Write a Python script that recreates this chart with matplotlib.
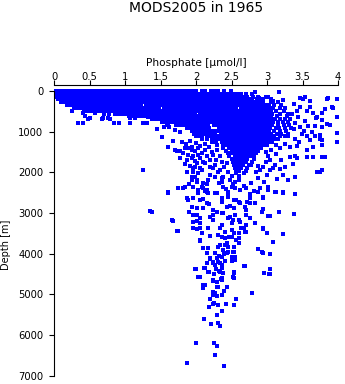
import matplotlib
matplotlib.use("Agg")
import matplotlib.pyplot as plt

plt.rcParams["font.family"] = ["DejaVu Sans"]

# Dense upper-ocean profiles: one depth per row, phosphate values (umol/l) along it
row_depth = [0, 70, 140, 210, 280, 350, 420, 490, 560, 630, 700, 770, 840, 910,
             980, 1050, 1120, 1190, 1260, 1330, 1400, 1470, 1540, 1610, 1680,
             1750, 1820, 1890, 1960, 2030, 2100]
row_phosphate = [
    "0.00 0.03 0.07 0.11 0.14 0.18 0.22 0.25 0.29 0.33 0.37 0.40 0.44 0.48 0.51 0.55 0.59 0.63 0.66 0.70 0.74 0.77 0.81 0.85 0.89 0.92 0.96 1.00 1.03 1.07 1.11 1.15 1.18 1.22 1.26 1.29 1.33 1.37 1.41 1.44 1.48 1.52 1.55 1.59 1.63 1.67 1.70 1.74 1.78 1.81 1.85 1.89 1.93 1.96 2.00 2.08 2.12 2.21 2.27 2.31 2.40 2.49",
    "0.01 0.05 0.09 0.12 0.16 0.20 0.24 0.27 0.31 0.35 0.39 0.42 0.46 0.50 0.54 0.57 0.61 0.65 0.69 0.72 0.76 0.80 0.84 0.87 0.91 0.95 0.99 1.02 1.06 1.10 1.14 1.17 1.21 1.25 1.29 1.32 1.36 1.40 1.44 1.47 1.51 1.55 1.59 1.62 1.66 1.70 1.74 1.77 1.81 1.85 1.89 1.92 1.96 2.00 2.04 2.07 2.11 2.15 2.19 2.22 2.26 2.30 2.34 2.37 2.41 2.45 2.49 2.52 2.56 2.60 2.64 2.71 2.79",
    "0.02 0.06 0.10 0.13 0.17 0.21 0.25 0.28 0.32 0.36 0.40 0.43 0.47 0.51 0.55 0.58 0.62 0.66 0.70 0.73 0.77 0.81 0.85 0.88 0.92 0.96 1.00 1.03 1.07 1.11 1.15 1.18 1.22 1.26 1.30 1.33 1.37 1.41 1.45 1.48 1.52 1.56 1.60 1.63 1.67 1.71 1.75 1.78 1.82 1.86 1.90 1.93 1.97 2.01 2.05 2.08 2.12 2.16 2.20 2.23 2.27 2.31 2.35 2.38 2.42 2.46 2.50 2.53 2.57 2.61 2.65 2.68 2.72 2.80 2.87 2.98",
    "0.05 0.09 0.12 0.16 0.20 0.24 0.27 0.31 0.35 0.39 0.42 0.46 0.50 0.54 0.57 0.61 0.65 0.69 0.72 0.76 0.80 0.84 0.87 0.91 0.95 0.99 1.02 1.06 1.10 1.14 1.17 1.21 1.25 1.29 1.32 1.36 1.40 1.44 1.47 1.51 1.55 1.59 1.62 1.66 1.70 1.74 1.77 1.81 1.85 1.89 1.92 1.96 2.00 2.04 2.07 2.11 2.15 2.19 2.22 2.26 2.30 2.34 2.37 2.41 2.45 2.49 2.52 2.56 2.60 2.64 2.67 2.71 2.75 2.79 2.86 2.94 3.06",
    "0.10 0.13 0.17 0.21 0.25 0.28 0.32 0.36 0.40 0.43 0.47 0.51 0.55 0.58 0.62 0.66 0.70 0.73 0.77 0.81 0.85 0.88 0.92 0.96 1.00 1.03 1.07 1.11 1.15 1.18 1.22 1.26 1.30 1.33 1.37 1.41 1.45 1.48 1.52 1.56 1.60 1.63 1.67 1.71 1.75 1.78 1.82 1.86 1.90 1.93 1.97 2.01 2.05 2.08 2.12 2.16 2.20 2.23 2.27 2.31 2.35 2.38 2.42 2.46 2.50 2.53 2.57 2.61 2.65 2.68 2.72 2.76 2.80 2.83 2.87 2.91 2.95 3.06 3.15",
    "0.18 0.21 0.25 0.29 0.33 0.36 0.40 0.44 0.48 0.51 0.55 0.59 0.63 0.66 0.70 0.74 0.78 0.81 0.85 0.89 0.93 0.96 1.00 1.04 1.08 1.11 1.15 1.19 1.23 1.30 1.34 1.38 1.41 1.45 1.49 1.53 1.56 1.60 1.64 1.68 1.71 1.75 1.79 1.83 1.86 1.90 1.94 1.98 2.01 2.05 2.09 2.13 2.16 2.20 2.24 2.28 2.31 2.35 2.39 2.43 2.46 2.50 2.54 2.58 2.61 2.65 2.69 2.73 2.76 2.80 2.84 2.88 2.91 2.95 2.99 3.03 3.10 3.20",
    "0.28 0.31 0.35 0.39 0.43 0.46 0.50 0.54 0.58 0.61 0.65 0.69 0.73 0.76 0.80 0.84 0.88 0.91 0.95 0.99 1.03 1.06 1.10 1.14 1.18 1.21 1.25 1.29 1.33 1.36 1.40 1.44 1.48 1.55 1.59 1.63 1.66 1.70 1.74 1.78 1.81 1.85 1.89 1.93 1.96 2.00 2.04 2.08 2.11 2.15 2.19 2.23 2.26 2.30 2.34 2.38 2.41 2.45 2.49 2.53 2.56 2.64 2.68 2.71 2.75 2.79 2.83 2.86 2.90 2.94 2.98 3.01 3.05 3.09 3.18 3.26",
    "0.42 0.46 0.50 0.53 0.57 0.61 0.65 0.68 0.72 0.76 0.80 0.83 0.87 0.91 0.95 0.98 1.02 1.06 1.10 1.13 1.17 1.21 1.25 1.28 1.32 1.36 1.40 1.43 1.47 1.51 1.55 1.58 1.62 1.66 1.70 1.73 1.77 1.81 1.85 1.88 1.92 1.96 2.00 2.03 2.07 2.11 2.15 2.18 2.22 2.26 2.30 2.33 2.37 2.41 2.45 2.48 2.52 2.56 2.60 2.63 2.67 2.71 2.75 2.78 2.82 2.86 2.90 2.93 2.97 3.01 3.05 3.12 3.24",
    "0.70 0.78 0.86 0.89 0.93 0.97 1.01 1.04 1.08 1.12 1.16 1.19 1.23 1.27 1.31 1.34 1.38 1.42 1.46 1.49 1.53 1.57 1.61 1.64 1.68 1.72 1.76 1.79 1.83 1.87 1.91 1.94 1.98 2.06 2.09 2.13 2.17 2.21 2.24 2.28 2.32 2.36 2.39 2.43 2.47 2.51 2.54 2.58 2.62 2.66 2.69 2.73 2.77 2.81 2.84 2.88 2.92 2.96 2.99 3.03 3.07 3.18 3.29",
    "1.06 1.11 1.15 1.19 1.23 1.26 1.30 1.34 1.38 1.41 1.45 1.49 1.53 1.56 1.60 1.64 1.68 1.71 1.75 1.79 1.83 1.86 1.90 1.94 1.98 2.01 2.05 2.09 2.13 2.16 2.20 2.24 2.28 2.31 2.35 2.39 2.43 2.46 2.50 2.54 2.58 2.61 2.65 2.69 2.73 2.76 2.80 2.84 2.88 2.91 2.95 2.99 3.03 3.06 3.14 3.28",
    "1.38 1.43 1.46 1.50 1.54 1.58 1.61 1.65 1.69 1.73 1.76 1.80 1.84 1.88 1.91 1.95 1.99 2.03 2.06 2.10 2.14 2.18 2.21 2.25 2.29 2.33 2.36 2.40 2.44 2.48 2.51 2.55 2.59 2.63 2.66 2.70 2.74 2.78 2.81 2.85 2.89 2.93 2.96 3.00 3.04 3.08 3.11 3.19 3.25 3.33",
    "1.52 1.58 1.62 1.65 1.69 1.73 1.77 1.80 1.84 1.88 1.92 1.95 1.99 2.03 2.07 2.10 2.14 2.18 2.22 2.25 2.29 2.33 2.37 2.40 2.44 2.48 2.52 2.55 2.59 2.63 2.67 2.70 2.74 2.78 2.82 2.85 2.89 2.93 2.97 3.00 3.04 3.08 3.16 3.22 3.30",
    "1.72 1.76 1.80 1.83 1.87 1.91 1.95 1.98 2.02 2.06 2.10 2.13 2.17 2.25 2.28 2.32 2.36 2.40 2.43 2.47 2.51 2.55 2.58 2.62 2.66 2.70 2.73 2.77 2.81 2.85 2.88 2.92 2.96 3.00 3.03 3.07 3.16 3.24 3.31",
    "1.88 1.92 1.96 1.99 2.03 2.07 2.11 2.14 2.18 2.33 2.37 2.41 2.44 2.48 2.52 2.56 2.59 2.63 2.67 2.71 2.74 2.78 2.82 2.86 2.89 2.93 2.97 3.01 3.04 3.12 3.17 3.26 3.34",
    "1.94 1.98 2.02 2.05 2.09 2.13 2.17 2.20 2.24 2.28 2.32 2.35 2.39 2.43 2.47 2.50 2.54 2.58 2.62 2.65 2.69 2.73 2.77 2.80 2.84 2.88 2.92 2.95 2.99 3.03 3.10 3.19 3.27",
    "1.97 2.01 2.05 2.08 2.12 2.16 2.20 2.23 2.27 2.35 2.38 2.42 2.46 2.50 2.53 2.57 2.61 2.65 2.68 2.72 2.76 2.80 2.83 2.87 2.91 2.95 2.98 3.02 3.06 3.14 3.20 3.30",
    "2.00 2.04 2.08 2.15 2.19 2.23 2.26 2.30 2.34 2.38 2.41 2.45 2.49 2.53 2.56 2.60 2.64 2.68 2.71 2.75 2.79 2.83 2.86 2.90 2.94 2.98 3.01 3.05 3.10 3.18 3.26",
    "2.08 2.16 2.22 2.26 2.30 2.33 2.37 2.41 2.45 2.48 2.52 2.56 2.60 2.63 2.67 2.71 2.75 2.78 2.82 2.86 2.90 2.93 2.97 3.01 3.05 3.10 3.16",
    "2.22 2.28 2.36 2.40 2.43 2.47 2.51 2.55 2.58 2.62 2.66 2.70 2.73 2.77 2.81 2.85 2.88 2.92 2.96 3.01 3.07",
    "2.30 2.38 2.42 2.45 2.49 2.53 2.57 2.60 2.64 2.68 2.72 2.75 2.79 2.83 2.87 2.90 2.95 3.00",
    "2.38 2.46 2.49 2.53 2.57 2.61 2.64 2.68 2.72 2.76 2.79 2.83 2.87 2.92",
    "2.42 2.50 2.53 2.57 2.61 2.65 2.68 2.72 2.76 2.80 2.83 2.88",
    "2.45 2.49 2.53 2.56 2.60 2.64 2.68 2.71 2.75 2.79 2.84",
    "2.47 2.55 2.58 2.62 2.66 2.70 2.73 2.77 2.82",
    "2.50 2.54 2.57 2.61 2.65 2.69 2.72 2.81",
    "2.52 2.56 2.60 2.63 2.67 2.71 2.79",
    "2.54 2.58 2.62 2.66 2.74 2.77",
    "2.55 2.59 2.63 2.72",
    "2.57 2.61 2.70",
    "2.56 2.67",
    "2.60",
]

# Individual samples outside the dense band: (phosphate, depth)
casts = [
    # lower fringe of the surface band
    (0.25, 491), (0.44, 614), (0.51, 678), (0.34, 801), (0.41, 801), (0.69, 678),
    (0.76, 678), (0.84, 801), (0.91, 801), (1.07, 678), (1.07, 801), (1.26, 801),
    (1.33, 654), (0.48, 703), (0.41, 555), (0.58, 555), (0.67, 703), (0.79, 703),
    (1.14, 678), (1.31, 786), (1.59, 801), (1.60, 843), (1.70, 966), (1.77, 1007),
    (1.52, 1130), (1.67, 1228), (1.60, 1376), (1.70, 1457), (1.73, 1474),
    (1.77, 1474), (1.85, 1408), (1.26, 1948), (1.45, 930), (1.55, 900), (1.62, 880),
    # high-phosphate side, upper 1500 m
    (2.83, 39), (2.89, 179), (3.02, 147), (3.09, 246), (3.17, 39), (3.23, 228),
    (3.46, 179), (3.51, 204), (3.61, 260), (3.85, 204), (3.82, 450), (3.93, 425),
    (3.98, 654), (3.61, 408), (3.56, 491), (3.65, 555), (3.70, 654), (3.77, 720),
    (3.89, 835), (3.78, 885), (3.68, 860), (3.58, 860), (3.54, 737), (3.63, 1022),
    (3.56, 1106), (3.68, 1106), (3.75, 1187), (3.61, 1211), (3.98, 1047),
    (3.98, 1268), (3.49, 1064), (3.46, 899), (3.44, 654), (3.42, 491), (3.46, 408),
    (3.54, 147), (3.84, 211), (3.98, 211), (3.91, 408), (3.78, 541), (3.69, 678),
    (3.85, 818), (3.74, 1088), (3.78, 1211), (3.78, 1334), (3.86, 179), (3.38, 330),
    (3.35, 560), (3.40, 780), (3.38, 950), (3.52, 980), (3.30, 1120), (3.40, 1180),
    (3.18, 1416), (3.32, 1376), (3.39, 1604), (3.26, 1300), (3.45, 1270),
    (3.13, 1330), (3.32, 1622), (3.42, 1661), (3.56, 1622), (3.65, 1636),
    (3.82, 1636), (3.42, 1359), (3.56, 1457), (3.65, 1376), (3.78, 1636),
    # intermediate water, 1200-2500 m
    (1.87, 1703), (1.94, 1661), (2.01, 1784), (2.10, 1744), (2.20, 1703),
    (2.13, 1457), (2.24, 1580), (2.34, 1604), (2.43, 1784), (1.89, 1408),
    (1.94, 1457), (1.99, 1474), (2.03, 1408), (1.89, 1580), (1.96, 1604),
    (2.03, 1580), (1.92, 1843), (1.99, 1867), (2.05, 1907), (1.96, 1990),
    (2.03, 2015), (2.08, 1948), (1.94, 2194), (2.01, 2236), (2.10, 2275),
    (2.17, 2194), (2.20, 2071), (2.27, 2113), (2.31, 1990), (2.36, 2152),
    (2.27, 1826), (2.20, 1867), (2.13, 1784), (2.24, 1907), (2.88, 1843),
    (2.95, 1867), (3.11, 1826), (3.00, 2071), (2.88, 2152), (2.90, 1950),
    (2.85, 2000), (2.45, 1990), (2.50, 2100), (2.48, 2200), (2.55, 2250),
    (1.80, 1250), (1.86, 1300), (1.92, 1240), (2.00, 1290), (2.06, 1350),
    (2.12, 1300), (2.18, 1380), (1.95, 1370), (1.82, 1520), (2.08, 1520),
    (2.16, 1600), (2.22, 1500), (2.30, 1460), (2.28, 1700), (2.36, 1750),
    (2.06, 1660), (1.98, 1720), (1.84, 1800), (1.78, 1650), (2.40, 1880),
    (2.34, 1940), (2.98, 1500), (3.06, 1460), (3.02, 1600), (3.12, 1560),
    (3.20, 1700), (3.08, 1900), (3.26, 1860), (3.36, 1800), (3.22, 2080),
    (2.96, 2240), (3.40, 2120),
    (1.61, 2481), (1.75, 2398), (1.85, 2359), (1.87, 1990), (1.96, 1907),
    (1.94, 2113), (2.01, 2194), (2.08, 2359), (2.15, 2440), (2.27, 2521),
    (2.38, 2113), (2.36, 2236), (2.50, 2359), (2.60, 2194), (2.71, 2398),
    (2.78, 2275), (2.90, 2398), (3.02, 2359), (3.14, 2177), (3.30, 2194),
    (3.11, 2481), (3.22, 2506), (3.70, 1990), (3.75, 1990), (3.77, 1948),
    (3.18, 1931), (3.04, 1948), (3.04, 1700), (2.98, 1750),
    # deep water below 2000 m
    (1.98, 2120), (2.16, 2280), (2.33, 2260), (2.52, 2280), (2.68, 2350),
    (1.90, 2300), (2.12, 2460), (2.42, 2420), (2.76, 2540), (2.10, 2660),
    (2.36, 2740), (2.72, 2720), (2.18, 2780), (2.48, 2840), (1.90, 2980),
    (2.24, 3040), (2.52, 3180), (2.02, 3200), (2.36, 3290), (2.20, 3560),
    (2.46, 3600), (2.34, 3790), (2.30, 4100), (2.16, 4240), (2.28, 4380),
    (1.82, 2383), (1.96, 2359), (2.03, 2440), (2.10, 2398), (2.17, 2521),
    (2.38, 2359), (2.45, 2481), (2.55, 2398), (2.62, 2440), (2.81, 2464),
    (2.88, 2481), (3.02, 2440), (1.87, 2644), (1.96, 2629), (2.05, 2685),
    (2.15, 2767), (2.36, 2644), (2.45, 2604), (2.53, 2685), (2.60, 2727),
    (2.76, 2629), (2.95, 2629), (1.94, 2850), (2.01, 2889), (2.10, 2875),
    (2.24, 2931), (2.43, 2850), (2.53, 2889), (2.71, 2931), (1.35, 2956),
    (1.96, 3054), (2.06, 3135), (2.20, 3096), (2.36, 3013), (2.48, 3096),
    (2.60, 3177), (2.76, 3135), (2.93, 2988), (3.02, 3071), (1.66, 3177),
    (1.96, 3381), (2.06, 3381), (2.17, 3365), (2.34, 3381), (2.41, 3464),
    (2.50, 3423), (2.64, 3381), (2.71, 3464), (2.83, 3258), (2.95, 3381),
    (1.73, 3440), (2.06, 3668), (2.31, 3546), (2.41, 3627), (2.50, 3587),
    (2.60, 3627), (2.10, 3857), (2.17, 3872), (2.31, 3833), (2.41, 3791),
    (2.53, 3833), (2.27, 3995), (2.41, 3995), (2.88, 3890), (2.95, 3995),
    (1.61, 2506), (1.38, 2973), (1.67, 3194), (1.74, 3440), (1.89, 2685),
    (2.01, 3054), (1.96, 3219), (2.06, 3258), (2.01, 3405), (2.08, 3504),
    (2.06, 3693), (2.15, 3995), (2.20, 4118), (2.24, 4241), (2.13, 4364),
    (1.99, 4381), (2.17, 4447), (2.03, 4585), (2.24, 4651), (2.10, 4774),
    (2.29, 4816), (2.34, 4447), (2.36, 4364), (2.34, 4241), (2.41, 4177),
    (2.36, 4079), (2.43, 3995), (2.38, 3914), (2.45, 3833), (2.53, 3956),
    (2.50, 4079), (2.55, 4160), (2.53, 4447), (2.36, 4609), (2.43, 4816),
    (2.36, 3587), (2.43, 3749), (2.53, 3504), (2.57, 3668), (2.60, 3749),
    (2.61, 3504), (2.67, 3381), (2.62, 3219), (2.50, 3258), (2.45, 3135),
    (2.38, 3013), (2.29, 2973), (2.24, 3177), (2.55, 3054), (2.71, 3054),
    (2.69, 3464), (2.71, 3300), (2.95, 3405), (3.00, 3489), (3.22, 3521),
    (3.09, 3710), (2.93, 3970), (3.04, 4012), (2.68, 4307), (2.96, 4472),
    (3.04, 4381), (3.04, 4511), (2.53, 4595), (2.95, 2907), (3.04, 3079),
    (3.17, 2988), (3.38, 3030), (3.39, 2545), (3.22, 2496), (3.13, 2496),
    (2.94, 2619), (2.83, 2767), (2.76, 2767), (2.69, 2850), (2.62, 2767),
    (2.57, 2685), (2.45, 2521), (2.29, 2521), (2.15, 2481), (2.03, 2521),
    # abyssal samples
    (2.24, 4668), (2.36, 4651), (2.13, 4774), (2.10, 4855), (2.24, 4939),
    (2.24, 5020), (2.29, 5044), (2.36, 5020), (2.79, 4978), (2.57, 5125),
    (2.26, 5209), (2.24, 5241), (2.19, 5307), (2.31, 5265), (2.42, 5248),
    (2.54, 5273), (2.30, 5518), (2.11, 5617), (2.21, 5732), (2.31, 5715),
    (2.34, 5789), (2.00, 6206), (2.26, 6206), (2.30, 6280), (2.27, 6501),
    (1.88, 6698), (2.40, 6772), (2.20, 4143), (2.24, 4201), (2.31, 4201),
    (2.36, 4283), (2.27, 4283), (2.33, 4061), (2.39, 4012), (2.45, 3956),
    (2.52, 3956), (2.55, 4093), (2.50, 4184), (2.69, 4307), (2.00, 4388),
    (2.11, 4364), (2.19, 4447), (2.26, 4504), (2.32, 4423), (2.38, 4486),
    (2.54, 4472), (2.05, 4570), (2.35, 4634), (2.52, 4585), (2.96, 4486),
    (3.03, 4504), (2.31, 4830), (2.27, 4978), (2.30, 4700), (2.40, 4920),
    (2.20, 5120), (2.36, 5400),
]

x_ticks = [0, 0.5, 1, 1.5, 2, 2.5, 3, 3.5, 4]
x_tick_labels = ["0", "0.5", "1", "1.5", "2", "2.5", "3", "3.5", "4"]
y_ticks = [0, 1000, 2000, 3000, 4000, 5000, 6000, 7000]
y_tick_labels = ["0", "1000", "2000", "3000", "4000", "5000", "6000", "7000"]

phosphate = []
depth = []
for d, row in zip(row_depth, row_phosphate):
    vals = [float(v) for v in row.split()]
    phosphate.extend(vals)
    depth.extend([d] * len(vals))
for p, d in casts:
    phosphate.append(p)
    depth.append(d)

W, H = 345, 384
fig = plt.figure(figsize=(W / 100, H / 100), dpi=100)
ax = fig.add_axes([54 / W, 0, 284 / W, 1 - 84.7 / H])

ax.scatter(phosphate, depth, s=4.7, marker="s", c="#0000ff", linewidths=0,
           antialiased=False)

ax.set_xlim(0, 4)
ax.set_ylim(7204, -150)
ax.xaxis.tick_top()
ax.xaxis.set_label_position("top")
ax.set_xticks(x_ticks)
ax.set_xticklabels(x_tick_labels)
ax.set_yticks(y_ticks)
ax.set_yticklabels(y_tick_labels)

for side in ["right", "bottom"]:
    ax.spines[side].set_visible(False)
ax.spines["left"].set_bounds(0, 7000)
for side in ["top", "left"]:
    ax.spines[side].set_linewidth(0.8)

ax.tick_params(axis="x", direction="out", length=3.3, width=0.8, labelsize=7.2, pad=-1.2)
ax.tick_params(axis="y", direction="out", length=3.6, width=0.8, labelsize=7.2, pad=4.0)

ax.set_xlabel("Phosphate [µmol/l]", fontsize=7.6)
ax.xaxis.set_label_coords(0.5, 1 + (84.7 - 66) / 299.3)
ax.set_ylabel("Depth [m]", fontsize=7.0)
ax.yaxis.set_label_coords((11 - 54) / 284, (H - 245) / 299.3)

fig.text(196.5 / W, 1 - 8 / H, "MODS2005 in 1965", ha="center", va="center", fontsize=10)

fig.savefig("out.png", dpi=100)
